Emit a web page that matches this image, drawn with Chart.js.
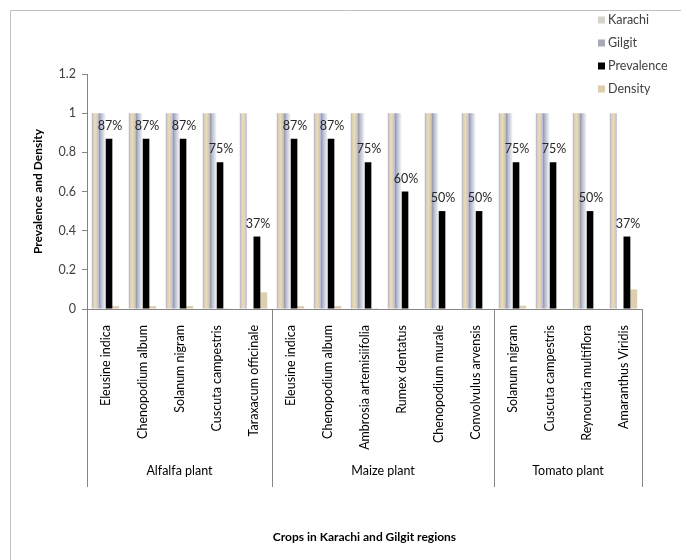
<!DOCTYPE html>
<html>
<head>
<meta charset="utf-8">
<script src="https://cdn.jsdelivr.net/npm/chart.js@4.4.1/dist/chart.umd.min.js"></script>
<style>
  html, body { margin: 0; padding: 0; background: #fff; }
  #wrap { width: 681px; height: 560px; }
</style>
</head>
<body>
<div id="wrap"><canvas id="chart" width="681" height="560"></canvas></div>
<script>
// data
const weeds = [
  'Eleusine indica', 'Chenopodium album', 'Solanum nigram', 'Cuscuta campestris', 'Taraxacum officinale',
  'Eleusine indica', 'Chenopodium album', 'Ambrosia artemisiifolia', 'Rumex dentatus', 'Chenopodium murale', 'Convolvulus arvensis',
  'Solanum nigram', 'Cuscuta campestris', 'Reynoutria multiflora', 'Amaranthus Viridis'
];
const crops = ['Alfalfa plant', 'Maize plant', 'Tomato plant'];
const cropSizes = [5, 6, 4];
const karachi = [1, 1, 1, 1, 1, 1, 1, 1, 1, 1, 1, 1, 1, 1, 1];
const gilgit = [1, 1, 1, 1, 0, 1, 1, 1, 1, 1, 1, 1, 1, 1, 0];
const prevalence = [0.87, 0.87, 0.87, 0.75, 0.37, 0.87, 0.87, 0.75, 0.60, 0.50, 0.50, 0.75, 0.75, 0.50, 0.37];
const density = [0.015, 0.015, 0.015, 0.004, 0.085, 0.015, 0.015, 0.005, 0.003, 0.003, 0.003, 0.017, 0.003, 0.002, 0.10];
const yTicks = [0, 0.2, 0.4, 0.6, 0.8, 1, 1.2];

const GROUP_PCT = 0.74;
const FONT = 'Lato, "Open Sans", sans-serif';

// left/right pixel edges of one bar, from the x scale
function barSpan(ctx) {
  const chart = ctx.chart;
  const x = chart.scales && chart.scales.x;
  if (!chart.chartArea || !x) return null;
  const cat = x.width / weeds.length;
  const group = cat * GROUP_PCT;
  const bw = group / 4;
  const left = x.getPixelForValue(ctx.dataIndex) - group / 2 + ctx.datasetIndex * bw;
  return [left, left + bw];
}

function karachiFill(ctx) {
  const s = barSpan(ctx);
  if (!s) return '#e2d6b8';
  const g = ctx.chart.ctx.createLinearGradient(s[0], 0, s[1], 0);
  g.addColorStop(0, '#a6a8de');
  g.addColorStop(0.18, '#d9ccae');
  g.addColorStop(0.5, '#e8dcbf');
  g.addColorStop(0.82, '#d9ccae');
  g.addColorStop(1, '#a6a8de');
  return g;
}

function gilgitFill(ctx) {
  const s = barSpan(ctx);
  if (!s) return '#b8bbcb';
  const g = ctx.chart.ctx.createLinearGradient(s[0], 0, s[1], 0);
  g.addColorStop(0, '#8a90aa');
  g.addColorStop(0.45, '#c2c5d3');
  g.addColorStop(1, '#f6f6f9');
  return g;
}

const extras = {
  id: 'extras',
  afterDraw(chart) {
    const c = chart.ctx;
    const x = chart.scales.x;
    const cat = x.width / weeds.length;
    c.save();

    // outer frame
    c.strokeStyle = '#c0c0c0';
    c.lineWidth = 1;
    c.beginPath();
    c.moveTo(10.5, 570);
    c.lineTo(10.5, 10.5);
    c.lineTo(700, 10.5);
    c.stroke();

    // crop group separators and names
    c.strokeStyle = '#868686';
    let start = 0;
    const edges = [0];
    cropSizes.forEach(n => { start += n; edges.push(start); });
    edges.forEach(i => {
      const px = Math.round(x.getPixelForValue(i) - cat / 2) + 0.5;
      c.beginPath();
      c.moveTo(px, x.top);
      c.lineTo(px, 487);
      c.stroke();
    });
    c.fillStyle = '#000';
    c.font = '12.5px ' + FONT;
    c.textAlign = 'center';
    c.textBaseline = 'middle';
    crops.forEach((name, k) => {
      const a = x.getPixelForValue(edges[k]) - cat / 2;
      const b = x.getPixelForValue(edges[k + 1]) - cat / 2;
      c.fillText(name, (a + b) / 2, 471);
    });

    // percent labels above prevalence bars
    const meta = chart.getDatasetMeta(2);
    c.fillStyle = '#262626';
    meta.data.forEach((el, i) => {
      c.fillText(Math.round(prevalence[i] * 100) + '%', el.x + 1, el.y - 13);
    });

    // legend
    const swatches = ['#d6d2cc', '#a8aab8', '#000000', '#dccdae'];
    c.textAlign = 'left';
    chart.data.datasets.forEach((ds, i) => {
      const y = 20 + i * 23;
      c.fillStyle = swatches[i];
      c.fillRect(598, y - 3.5, 7, 7);
      c.fillStyle = '#404040';
      c.fillText(ds.label, 608, y);
    });
    c.restore();
  }
};

new Chart(document.getElementById('chart'), {
  type: 'bar',
  data: {
    labels: weeds,
    datasets: [
      { label: 'Karachi', data: karachi, backgroundColor: karachiFill },
      { label: 'Gilgit', data: gilgit, backgroundColor: gilgitFill },
      { label: 'Prevalence', data: prevalence, backgroundColor: '#000000' },
      { label: 'Density', data: density, backgroundColor: '#dccfae' }
    ]
  },
  options: {
    responsive: false,
    animation: false,
    datasets: { bar: { categoryPercentage: GROUP_PCT, barPercentage: 1 } },
    layout: { padding: { top: 74, right: 39, left: 0, bottom: 0 } },
    plugins: { legend: { display: false }, tooltip: { enabled: false } },
    scales: {
      x: {
        grid: { display: false },
        border: { color: '#868686' },
        ticks: {
          autoSkip: false, maxRotation: 90, minRotation: 90, padding: 8,
          color: '#000', font: { family: FONT, size: 12.5 }
        },
        title: {
          display: true, text: 'Crops in Karachi and Gilgit regions', color: '#000',
          font: { family: FONT, size: 12, weight: 'bold' }, padding: { top: 0, bottom: 16 }
        },
        afterFit(s) { s.height = 251; }
      },
      y: {
        min: 0, max: 1.2,
        afterBuildTicks(s) { s.ticks = yTicks.map(v => ({ value: v })); },
        grid: { drawOnChartArea: false, tickLength: 5, color: '#868686' },
        border: { color: '#868686' },
        ticks: {
          padding: 6, color: '#404040', font: { family: FONT, size: 12.5 },
          callback: v => String(Math.round(v * 10) / 10)
        },
        title: {
          display: true, text: 'Prevalence and Density', color: '#000',
          font: { family: FONT, size: 12, weight: 'bold' }, padding: { top: 31, bottom: 0 }
        },
        afterFit(s) { s.width = 87; }
      }
    }
  },
  plugins: [extras]
});
</script>
</body>
</html>
